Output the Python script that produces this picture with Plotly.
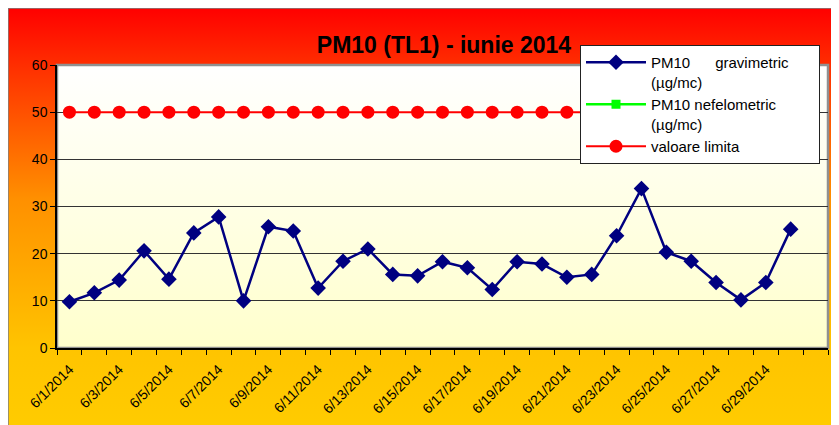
import base64
import plotly.graph_objects as go

# ---------------- data ----------------
dates = [f"6/{d}/2014" for d in range(1, 31)]
pm10_gravimetric = [9.8, 11.7, 14.4, 20.6, 14.6, 24.4, 27.8, 10.0, 25.7, 24.8,
                    12.7, 18.4, 21.0, 15.6, 15.3, 18.3, 17.0, 12.4, 18.3, 17.8,
                    15.0, 15.6, 23.8, 33.8, 20.3, 18.4, 13.9, 10.2, 13.9, 25.2]
pm10_nefelometric = [None] * 30
valoare_limita = [50] * 30
y_ticks = [0, 10, 20, 30, 40, 50, 60]

x_idx = list(range(len(dates)))
tick_vals = x_idx[::2]
tick_text = dates[::2]
n_cat = len(dates) + 1  # Excel axis keeps one empty category at the end

# ---------------- backgrounds (gradients) ----------------
def grad_svg(stops):
    st = "".join(f'<stop offset="{o}" stop-color="{c}"/>' for o, c in stops)
    svg = ('<svg xmlns="http://www.w3.org/2000/svg" width="100" height="100" '
           'viewBox="0 0 100 100" preserveAspectRatio="none">'
           '<defs><linearGradient id="g" x1="0" y1="0" x2="0" y2="1">' + st +
           '</linearGradient></defs><rect width="100" height="100" fill="url(#g)"/></svg>')
    return "data:image/svg+xml;base64," + base64.b64encode(svg.encode()).decode()

outer = grad_svg([(0, "#FF0000"), (0.15, "#FF3300"), (0.45, "#FF9000"),
                  (0.8, "#FFC400"), (1, "#FFCC00")])
inner = grad_svg([(0, "#FFFFFF"), (1, "#FFFFCC")])

W, H = 839, 425
ml, mr, mt, mb = 49, 19, 57, 85
pw, ph = W - ml - mr, H - mt - mb

def px_x(p):
    return (p - ml) / pw

def px_y(p):
    return (H - mb - p) / ph

NB = "\u00a0"
fig = go.Figure()

fig.add_trace(go.Scatter(
    x=x_idx, y=pm10_gravimetric, mode="lines+markers",
    name="PM10" + NB * 6 + "gravimetric" + NB * 6 + "<br>(µg/mc)",
    line=dict(color="#000080", width=2.5),
    marker=dict(symbol="diamond", size=12, color="#000080"),
))
fig.add_trace(go.Scatter(
    x=x_idx, y=pm10_nefelometric, mode="lines+markers",
    name="PM10 nefelometric<br>(µg/mc)",
    line=dict(color="#00FF00", width=2.5),
    marker=dict(symbol="square", size=9, color="#00FF00"),
))
fig.add_trace(go.Scatter(
    x=x_idx, y=valoare_limita, mode="lines+markers",
    name="valoare limita",
    line=dict(color="#FF0000", width=2),
    marker=dict(symbol="circle", size=13, color="#FF0000"),
))

fig.update_layout(
    width=W, height=H,
    margin=dict(l=ml, r=mr, t=mt, b=mb, autoexpand=False),
    paper_bgcolor="white",
    plot_bgcolor="#FFFFE8",
    font=dict(family="Liberation Sans, Arial, sans-serif", color="black"),
    title=dict(text="<b>PM10 (TL1) - iunie 2014</b>", x=436 / W, xref="container",
               xanchor="center", y=1 - 37 / H, yref="container", yanchor="middle",
               font=dict(size=23, color="black")),
    showlegend=True,
    legend=dict(
        x=px_x(572), y=px_y(37), xanchor="left", yanchor="top",
        bgcolor="white", bordercolor="#222222", borderwidth=1,
        font=dict(size=15, color="black"), valign="top",
        itemwidth=60, tracegroupgap=0,
    ),
    images=[
        dict(source=outer, xref="paper", yref="paper", x=px_x(0), y=px_y(0),
             sizex=W / pw, sizey=H / ph, xanchor="left", yanchor="top",
             sizing="stretch", layer="below"),
        dict(source=inner, xref="paper", yref="paper", x=0, y=1,
             sizex=1, sizey=1, xanchor="left", yanchor="top",
             sizing="stretch", layer="below"),
    ],
    shapes=[
        dict(type="rect", xref="paper", yref="paper", x0=px_x(0), x1=px_x(W + 5),
             y0=px_y(H + 5), y1=px_y(0), line=dict(color="#808080", width=1.5),
             layer="below"),
        dict(type="rect", xref="paper", yref="paper", x0=0, x1=1, y0=0, y1=1,
             line=dict(color="#909090", width=2.5), layer="below"),
    ],
)

fig.update_xaxes(
    range=[-0.5, n_cat - 0.5],
    tickmode="array", tickvals=tick_vals, ticktext=tick_text,
    tickangle=-45, ticks="", ticklabelstandoff=6,
    tickfont=dict(size=14, color="black"),
    showgrid=False, zeroline=False,
    showline=True, linecolor="black", linewidth=1.5,
    minor=dict(tickvals=[i - 0.5 for i in range(n_cat + 1)], ticks="outside",
               ticklen=5, tickcolor="black", showgrid=False),
)
fig.update_yaxes(
    range=[0, 60], tickmode="array", tickvals=y_ticks,
    ticks="outside", ticklen=5, tickcolor="black",
    tickfont=dict(size=14, color="black"),
    showgrid=True, gridcolor="#333333", gridwidth=1,
    zeroline=False, showline=True, linecolor="black", linewidth=1.5,
)

fig.write_html("out.html")
